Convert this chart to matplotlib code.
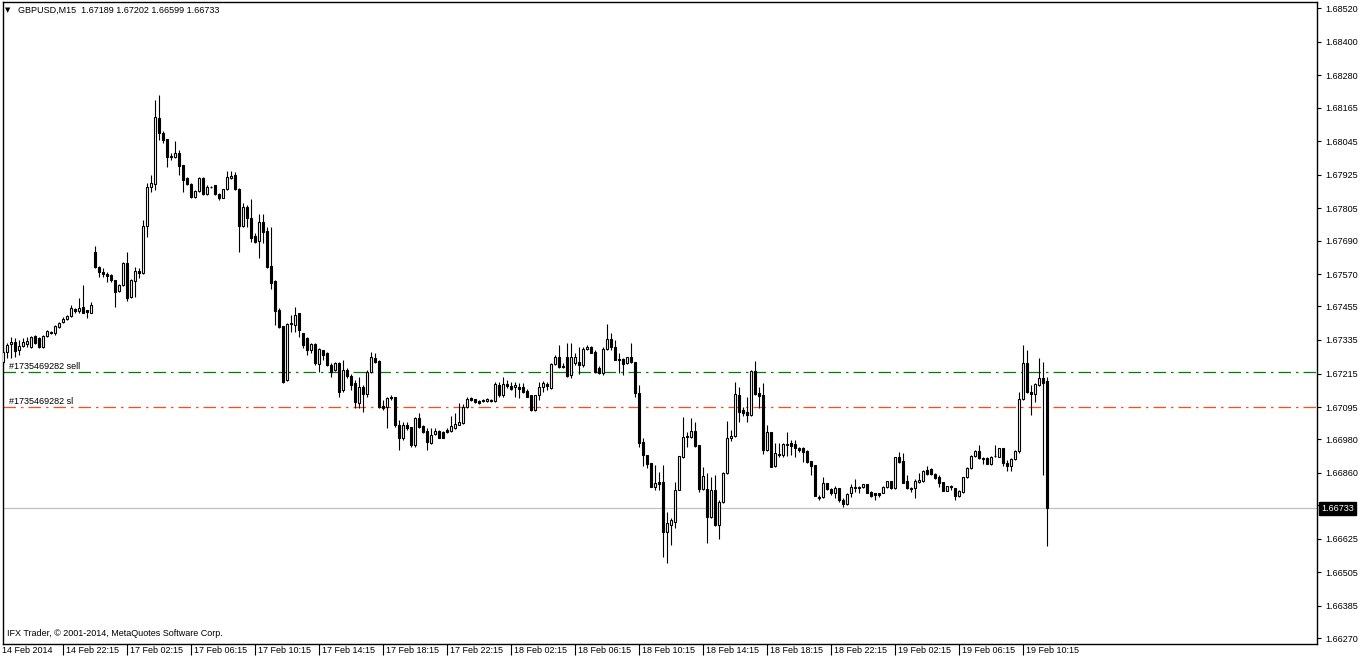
import numpy as np
import matplotlib
matplotlib.use('Agg')
import matplotlib.pyplot as plt

plt.rcParams['font.family'] = ['Liberation Sans', 'DejaVu Sans']

# GBPUSD M15 bars
opens = [1.67256, 1.67292, 1.67321, 1.67328, 1.67299, 1.67314, 1.67321, 1.67310, 1.67349, 1.67342,
         1.67310, 1.67349, 1.67363, 1.67360, 1.67381, 1.67399, 1.67410, 1.67421, 1.67445, 1.67438,
         1.67453, 1.67442, 1.67431, 1.67649, 1.67595, 1.67578, 1.67570, 1.67567, 1.67549, 1.67510,
         1.67531, 1.67610, 1.67488, 1.67545, 1.67581, 1.67574, 1.67742, 1.67881, 1.67892, 1.68128,
         1.68074, 1.68053, 1.67992, 1.67988, 1.68003, 1.67960, 1.67913, 1.67892, 1.67845, 1.67867,
         1.67913, 1.67856, 1.67881, 1.67888, 1.67856, 1.67842, 1.67874, 1.67913, 1.67924, 1.67874,
         1.67742, 1.67810, 1.67770, 1.67706, 1.67688, 1.67756, 1.67724, 1.67599, 1.67545, 1.67442,
         1.67385, 1.67192, 1.67395, 1.67388, 1.67431, 1.67360, 1.67342, 1.67299, 1.67321, 1.67249,
         1.67299, 1.67288, 1.67245, 1.67228, 1.67252, 1.67156, 1.67228, 1.67206, 1.67181, 1.67110,
         1.67167, 1.67142, 1.67221, 1.67270, 1.67260, 1.67099, 1.67096, 1.67131, 1.67131, 1.67031,
         1.66985, 1.67031, 1.67024, 1.66960, 1.67056, 1.67028, 1.67010, 1.66967, 1.66999, 1.67010,
         1.67006, 1.67013, 1.67010, 1.67020, 1.67031, 1.67038, 1.67096, 1.67128, 1.67124, 1.67117,
         1.67120, 1.67117, 1.67120, 1.67117, 1.67174, 1.67138, 1.67178, 1.67170, 1.67167, 1.67167,
         1.67167, 1.67153, 1.67138, 1.67085, 1.67138, 1.67167, 1.67178, 1.67163, 1.67249, 1.67274,
         1.67242, 1.67274, 1.67210, 1.67252, 1.67256, 1.67245, 1.67303, 1.67310, 1.67292, 1.67235,
         1.67217, 1.67303, 1.67338, 1.67310, 1.67267, 1.67267, 1.67252, 1.67274, 1.67256, 1.67145,
         1.66971, 1.66924, 1.66895, 1.66810, 1.66828, 1.66828, 1.66649, 1.66674, 1.66685, 1.66799,
         1.66917, 1.66992, 1.66988, 1.67010, 1.66960, 1.66803, 1.66803, 1.66703, 1.66799, 1.66674,
         1.66756, 1.66860, 1.66985, 1.66992, 1.67138, 1.67085, 1.67078, 1.67067, 1.67224, 1.67145,
         1.67138, 1.66942, 1.67006, 1.66885, 1.66928, 1.66924, 1.66960, 1.66967, 1.66963, 1.66949,
         1.66949, 1.66938, 1.66903, 1.66888, 1.66770, 1.66774, 1.66824, 1.66803, 1.66788, 1.66806,
         1.66763, 1.66749, 1.66788, 1.66806, 1.66810, 1.66810, 1.66820, 1.66792, 1.66788, 1.66788,
         1.66788, 1.66810, 1.66831, 1.66806, 1.66917, 1.66903, 1.66831, 1.66806, 1.66806, 1.66828,
         1.66831, 1.66870, 1.66874, 1.66856, 1.66845, 1.66828, 1.66795, 1.66813, 1.66806, 1.66778,
         1.66792, 1.66845, 1.66878, 1.66921, 1.66938, 1.66913, 1.66913, 1.66892, 1.66921, 1.66917,
         1.66949, 1.66895, 1.66885, 1.66910, 1.66938, 1.67124, 1.67252, 1.67149, 1.67142, 1.67174,
         1.67199, 1.67189]
highs = [1.67299, 1.67324, 1.67345, 1.67342, 1.67335, 1.67342, 1.67345, 1.67349, 1.67352, 1.67345,
         1.67352, 1.67370, 1.67367, 1.67388, 1.67399, 1.67417, 1.67424, 1.67460, 1.67449, 1.67485,
         1.67531, 1.67442, 1.67471, 1.67671, 1.67599, 1.67592, 1.67578, 1.67570, 1.67549, 1.67535,
         1.67613, 1.67649, 1.67553, 1.67595, 1.67592, 1.67763, 1.67895, 1.67924, 1.68192, 1.68210,
         1.68081, 1.68053, 1.68003, 1.68045, 1.68013, 1.67960, 1.67917, 1.67895, 1.67870, 1.67917,
         1.67917, 1.67888, 1.67885, 1.67888, 1.67860, 1.67874, 1.67938, 1.67938, 1.67935, 1.67878,
         1.67824, 1.67817, 1.67838, 1.67717, 1.67785, 1.67785, 1.67738, 1.67738, 1.67549, 1.67449,
         1.67385, 1.67395, 1.67424, 1.67453, 1.67431, 1.67360, 1.67345, 1.67324, 1.67324, 1.67306,
         1.67299, 1.67292, 1.67252, 1.67256, 1.67256, 1.67263, 1.67235, 1.67213, 1.67192, 1.67203,
         1.67174, 1.67228, 1.67292, 1.67288, 1.67263, 1.67120, 1.67131, 1.67138, 1.67131, 1.67049,
         1.67042, 1.67042, 1.67024, 1.67060, 1.67074, 1.67031, 1.67020, 1.67020, 1.67020, 1.67013,
         1.67010, 1.67020, 1.67063, 1.67074, 1.67110, 1.67106, 1.67131, 1.67131, 1.67124, 1.67120,
         1.67124, 1.67128, 1.67124, 1.67185, 1.67185, 1.67203, 1.67192, 1.67185, 1.67185, 1.67181,
         1.67181, 1.67160, 1.67138, 1.67138, 1.67185, 1.67188, 1.67185, 1.67252, 1.67281, 1.67317,
         1.67252, 1.67324, 1.67324, 1.67288, 1.67310, 1.67310, 1.67317, 1.67313, 1.67299, 1.67242,
         1.67310, 1.67392, 1.67360, 1.67335, 1.67288, 1.67270, 1.67274, 1.67324, 1.67256, 1.67174,
         1.66985, 1.66924, 1.66895, 1.66888, 1.66863, 1.66888, 1.66720, 1.66699, 1.66828, 1.66921,
         1.67060, 1.67006, 1.67056, 1.67042, 1.66960, 1.66881, 1.66860, 1.66845, 1.66853, 1.66763,
         1.66863, 1.67045, 1.67013, 1.67185, 1.67167, 1.67096, 1.67131, 1.67228, 1.67260, 1.67167,
         1.67181, 1.67031, 1.67006, 1.66967, 1.66967, 1.66967, 1.67006, 1.66978, 1.66978, 1.66953,
         1.66953, 1.66942, 1.66903, 1.66888, 1.66781, 1.66845, 1.66824, 1.66806, 1.66813, 1.66806,
         1.66770, 1.66788, 1.66820, 1.66838, 1.66813, 1.66820, 1.66820, 1.66795, 1.66788, 1.66788,
         1.66813, 1.66831, 1.66831, 1.66917, 1.66935, 1.66931, 1.66853, 1.66810, 1.66838, 1.66860,
         1.66870, 1.66885, 1.66878, 1.66860, 1.66853, 1.66828, 1.66813, 1.66817, 1.66806, 1.66799,
         1.66845, 1.66881, 1.66924, 1.66942, 1.66960, 1.66917, 1.66917, 1.66921, 1.66960, 1.66949,
         1.66949, 1.66906, 1.66913, 1.66942, 1.67149, 1.67317, 1.67299, 1.67174, 1.67181, 1.67270,
         1.67256, 1.67202]
lows = [1.67245, 1.67270, 1.67270, 1.67274, 1.67281, 1.67310, 1.67310, 1.67306, 1.67321, 1.67306,
        1.67306, 1.67345, 1.67356, 1.67352, 1.67377, 1.67395, 1.67406, 1.67417, 1.67431, 1.67431,
        1.67431, 1.67413, 1.67431, 1.67592, 1.67560, 1.67560, 1.67542, 1.67542, 1.67453, 1.67506,
        1.67528, 1.67474, 1.67485, 1.67488, 1.67556, 1.67570, 1.67703, 1.67863, 1.67870, 1.68049,
        1.68038, 1.67953, 1.67978, 1.67985, 1.67924, 1.67863, 1.67888, 1.67842, 1.67842, 1.67863,
        1.67853, 1.67853, 1.67878, 1.67853, 1.67835, 1.67842, 1.67870, 1.67910, 1.67870, 1.67649,
        1.67738, 1.67738, 1.67685, 1.67681, 1.67627, 1.67681, 1.67592, 1.67517, 1.67388, 1.67377,
        1.67181, 1.67188, 1.67363, 1.67363, 1.67345, 1.67306, 1.67281, 1.67288, 1.67245, 1.67221,
        1.67263, 1.67242, 1.67203, 1.67224, 1.67131, 1.67149, 1.67199, 1.67156, 1.67092, 1.67092,
        1.67078, 1.67131, 1.67217, 1.67252, 1.67092, 1.67085, 1.67020, 1.67120, 1.67024, 1.66942,
        1.66978, 1.67013, 1.66953, 1.66953, 1.67020, 1.67003, 1.66942, 1.66963, 1.66995, 1.66985,
        1.66985, 1.67003, 1.67006, 1.67017, 1.67031, 1.67035, 1.67092, 1.67117, 1.67110, 1.67106,
        1.67113, 1.67113, 1.67113, 1.67113, 1.67131, 1.67131, 1.67163, 1.67156, 1.67131, 1.67128,
        1.67145, 1.67131, 1.67081, 1.67081, 1.67120, 1.67149, 1.67156, 1.67160, 1.67245, 1.67235,
        1.67235, 1.67203, 1.67199, 1.67245, 1.67213, 1.67238, 1.67299, 1.67288, 1.67217, 1.67213,
        1.67210, 1.67299, 1.67299, 1.67263, 1.67217, 1.67210, 1.67249, 1.67252, 1.67131, 1.66953,
        1.66885, 1.66878, 1.66810, 1.66799, 1.66799, 1.66560, 1.66538, 1.66603, 1.66663, 1.66799,
        1.66913, 1.66953, 1.66985, 1.66953, 1.66792, 1.66799, 1.66609, 1.66699, 1.66671, 1.66624,
        1.66753, 1.66856, 1.66974, 1.66988, 1.67042, 1.67063, 1.67042, 1.67063, 1.67138, 1.67092,
        1.66928, 1.66938, 1.66881, 1.66881, 1.66917, 1.66917, 1.66921, 1.66924, 1.66917, 1.66935,
        1.66899, 1.66895, 1.66853, 1.66778, 1.66763, 1.66770, 1.66799, 1.66781, 1.66770, 1.66756,
        1.66738, 1.66745, 1.66774, 1.66792, 1.66788, 1.66806, 1.66788, 1.66774, 1.66763, 1.66774,
        1.66788, 1.66806, 1.66803, 1.66803, 1.66895, 1.66824, 1.66803, 1.66792, 1.66770, 1.66824,
        1.66828, 1.66853, 1.66853, 1.66838, 1.66810, 1.66795, 1.66795, 1.66799, 1.66763, 1.66774,
        1.66788, 1.66842, 1.66874, 1.66917, 1.66910, 1.66892, 1.66892, 1.66888, 1.66917, 1.66917,
        1.66885, 1.66867, 1.66867, 1.66906, 1.66931, 1.67120, 1.67145, 1.67067, 1.67113, 1.67170,
        1.66853, 1.66599]
closes = [1.67292, 1.67317, 1.67328, 1.67295, 1.67314, 1.67328, 1.67331, 1.67345, 1.67324, 1.67310,
          1.67349, 1.67367, 1.67360, 1.67385, 1.67395, 1.67410, 1.67421, 1.67449, 1.67438, 1.67449,
          1.67431, 1.67435, 1.67460, 1.67595, 1.67578, 1.67570, 1.67563, 1.67549, 1.67506, 1.67531,
          1.67610, 1.67485, 1.67549, 1.67581, 1.67574, 1.67742, 1.67881, 1.67895, 1.68131, 1.68074,
          1.68049, 1.67988, 1.67988, 1.68003, 1.67956, 1.67906, 1.67892, 1.67845, 1.67867, 1.67913,
          1.67856, 1.67881, 1.67880, 1.67856, 1.67842, 1.67874, 1.67917, 1.67920, 1.67874, 1.67742,
          1.67810, 1.67770, 1.67699, 1.67685, 1.67756, 1.67720, 1.67595, 1.67538, 1.67438, 1.67381,
          1.67185, 1.67392, 1.67392, 1.67424, 1.67370, 1.67317, 1.67299, 1.67321, 1.67252, 1.67303,
          1.67281, 1.67245, 1.67221, 1.67252, 1.67149, 1.67228, 1.67206, 1.67174, 1.67113, 1.67167,
          1.67142, 1.67221, 1.67274, 1.67256, 1.67096, 1.67092, 1.67128, 1.67128, 1.67031, 1.66985,
          1.67031, 1.67020, 1.66960, 1.67056, 1.67024, 1.67006, 1.66971, 1.66995, 1.67010, 1.66985,
          1.66985, 1.67006, 1.67028, 1.67035, 1.67042, 1.67096, 1.67124, 1.67120, 1.67113, 1.67110,
          1.67117, 1.67124, 1.67117, 1.67178, 1.67138, 1.67178, 1.67170, 1.67160, 1.67174, 1.67160,
          1.67149, 1.67131, 1.67085, 1.67138, 1.67167, 1.67181, 1.67170, 1.67249, 1.67274, 1.67238,
          1.67238, 1.67206, 1.67274, 1.67274, 1.67245, 1.67303, 1.67310, 1.67288, 1.67221, 1.67217,
          1.67303, 1.67338, 1.67310, 1.67263, 1.67263, 1.67249, 1.67274, 1.67256, 1.67145, 1.66967,
          1.66924, 1.66892, 1.66810, 1.66824, 1.66820, 1.66649, 1.66681, 1.66692, 1.66799, 1.66921,
          1.66988, 1.66988, 1.67010, 1.66956, 1.66803, 1.66849, 1.66703, 1.66799, 1.66674, 1.66756,
          1.66860, 1.66985, 1.66992, 1.67142, 1.67078, 1.67074, 1.67067, 1.67224, 1.67142, 1.67135,
          1.66942, 1.67006, 1.66881, 1.66931, 1.66924, 1.66963, 1.66963, 1.66956, 1.66949, 1.66942,
          1.66935, 1.66899, 1.66885, 1.66778, 1.66774, 1.66824, 1.66803, 1.66788, 1.66806, 1.66763,
          1.66749, 1.66785, 1.66810, 1.66810, 1.66806, 1.66820, 1.66788, 1.66778, 1.66781, 1.66781,
          1.66810, 1.66831, 1.66806, 1.66917, 1.66899, 1.66824, 1.66806, 1.66803, 1.66831, 1.66835,
          1.66867, 1.66856, 1.66856, 1.66842, 1.66824, 1.66795, 1.66813, 1.66810, 1.66778, 1.66795,
          1.66845, 1.66878, 1.66921, 1.66938, 1.66913, 1.66910, 1.66892, 1.66917, 1.66920, 1.66949,
          1.66895, 1.66885, 1.66910, 1.66938, 1.67124, 1.67252, 1.67149, 1.67142, 1.67178, 1.67199,
          1.67181, 1.66733]

price_ticks = [1.68520, 1.68400, 1.68280, 1.68165, 1.68045, 1.67925, 1.67805, 1.67690, 1.67570, 1.67455,
               1.67335, 1.67215, 1.67095, 1.66980, 1.66860, 1.66745, 1.66625, 1.66505, 1.66385, 1.66270]
time_labels = ['14 Feb 22:15', '17 Feb 02:15', '17 Feb 06:15', '17 Feb 10:15', '17 Feb 14:15',
               '17 Feb 18:15', '17 Feb 22:15', '18 Feb 02:15', '18 Feb 06:15', '18 Feb 10:15',
               '18 Feb 14:15', '18 Feb 18:15', '18 Feb 22:15', '19 Feb 02:15', '19 Feb 06:15',
               '19 Feb 10:15']
time_bars = [15, 31, 47, 63, 79, 95, 111, 127, 143, 159, 175, 191, 207, 223, 239, 255]
sell_price = 1.67220
sl_price = 1.67095
last_price = 1.66733
order_id = '#1735469282'

o = np.array(opens)
h = np.array(highs)
l = np.array(lows)
c = np.array(closes)
x = np.arange(len(o))
up = c >= o
bottom = np.minimum(o, c)
height = np.maximum(np.abs(c - o), 0.000005)

W, H = 1362, 661
fig = plt.figure(figsize=(W / 100, H / 100), dpi=100)
ax = fig.add_axes([3 / W, 1 - 644 / H, 1314 / W, 642 / H])
ax.set_xlim(0, 328.5)
ax.set_ylim(1.66249, 1.68542)
for s in ax.spines.values():
    s.set_color('black')
    s.set_linewidth(1)

# order lines and current price line
ax.axhline(last_price, color='#c0c0c0', lw=0.9, zorder=1)
ax.axhline(sell_price, color='#008000', lw=0.9, dashes=(10, 4, 2, 4), zorder=1)
ax.axhline(sl_price, color='#ff4a1a', lw=0.9, dashes=(10, 4, 2, 4), zorder=1)

# candles
ax.vlines(x, l, h, color='black', lw=0.8, zorder=2)
ax.bar(x[up], height[up], bottom=bottom[up], width=0.55, facecolor='white',
       edgecolor='black', lw=0.8, zorder=3)
ax.bar(x[~up], height[~up], bottom=bottom[~up], width=0.55, facecolor='black',
       edgecolor='black', lw=0.8, zorder=3)

fs = 6.5
ax.annotate(order_id + ' sell', xy=(1.6, sell_price), xytext=(0, 1), textcoords='offset points',
            ha='left', va='bottom', fontsize=fs)
ax.annotate(order_id + ' sl', xy=(1.6, sl_price), xytext=(0, 1), textcoords='offset points',
            ha='left', va='bottom', fontsize=fs)

# price axis on the right; the tick under the last-price box gets no label
ax.yaxis.tick_right()
ax.set_yticks(price_ticks)
ax.set_yticklabels(['' if abs(p - last_price) < 0.0002 else '%.5f' % p for p in price_ticks])
ax.tick_params(axis='y', direction='out', length=3, width=0.8, pad=3, labelsize=fs)
ax.annotate('%.5f' % last_price, xy=(1, last_price), xycoords=('axes fraction', 'data'),
            xytext=(3, 0), textcoords='offset points', ha='left', va='center',
            fontsize=fs, color='white', annotation_clip=False,
            bbox=dict(boxstyle='square,pad=0.2', fc='black', ec='black'))

# time axis
ax.set_xticks(time_bars)
ax.set_xticklabels([])
ax.tick_params(axis='x', direction='out', length=8, width=0.8)
for t, lbl in zip(time_bars, time_labels):
    ax.annotate(lbl, xy=(t, 0), xycoords=('data', 'axes fraction'), xytext=(2.2, -1.5),
                textcoords='offset points', ha='left', va='top', fontsize=fs,
                annotation_clip=False)
ax.annotate('14 Feb 2014', xy=(0, 0), xycoords='axes fraction', xytext=(-0.7, -1.5),
            textcoords='offset points', ha='left', va='top', fontsize=fs,
            annotation_clip=False)

# header and copyright
fig.text(5 / W, 1 - 10 / H, '\u25bc', fontsize=5, va='center', ha='left', family='DejaVu Sans')
fig.text(18 / W, 1 - 10 / H, 'GBPUSD,M15  1.67189 1.67202 1.66599 1.66733', fontsize=fs,
         va='center', ha='left')
fig.text(7 / W, 1 - 634 / H, 'IFX Trader, \u00a9 2001-2014, MetaQuotes Software Corp.',
         fontsize=fs, va='center', ha='left')

plt.savefig('out.png', dpi=100)
plt.close()
